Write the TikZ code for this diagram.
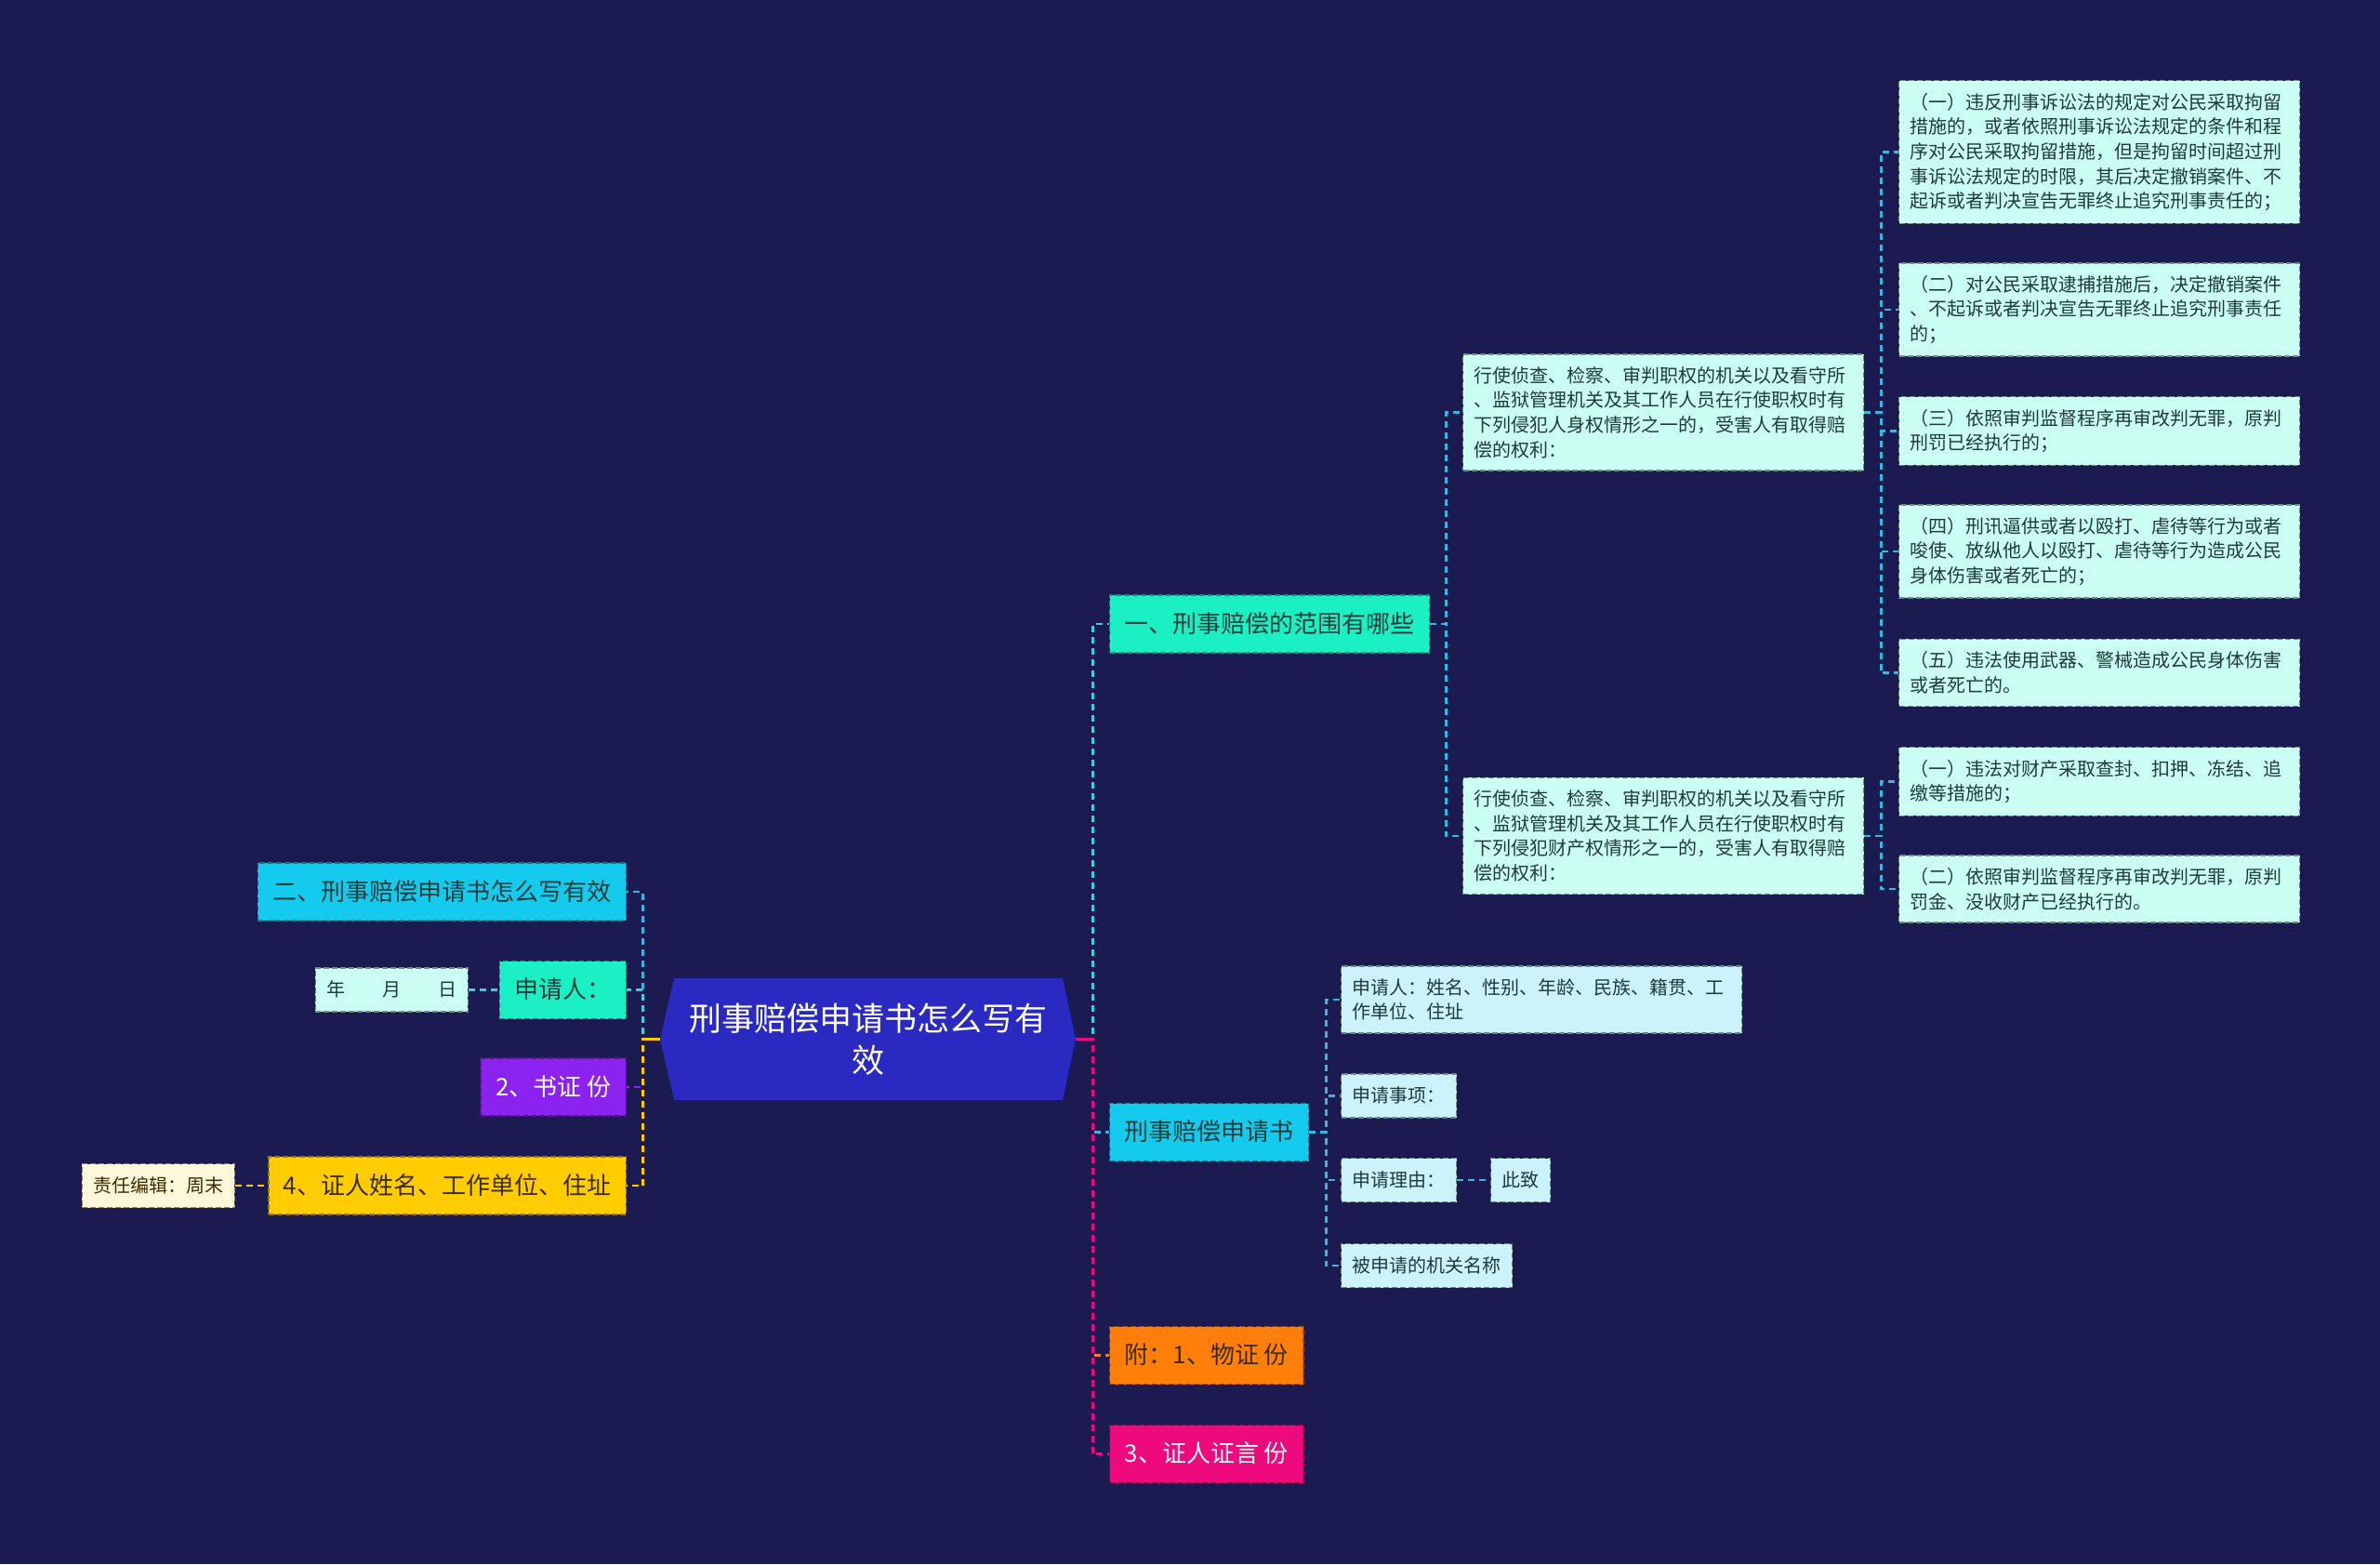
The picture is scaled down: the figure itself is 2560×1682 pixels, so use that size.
\documentclass[tikz,border=0pt]{standalone}
\usepackage{fontspec}
\setmainfont{Noto Sans CJK SC}
\definecolor{bgC}{HTML}{1C1B51}
\definecolor{rootC}{HTML}{2A2AC2}
\definecolor{mintC}{HTML}{1AF0C4}
\definecolor{cyanC}{HTML}{14CBEE}
\definecolor{purpleC}{HTML}{8B22F0}
\definecolor{yellowC}{HTML}{FFCC00}
\definecolor{orangeC}{HTML}{FF7F0A}
\definecolor{pinkC}{HTML}{EE0A7C}
\definecolor{leafMint}{HTML}{CCFFF3}
\definecolor{leafBlue}{HTML}{CCF2FC}
\definecolor{creamC}{HTML}{FFF7D9}
\definecolor{inkC}{HTML}{1D3B3A}
\definecolor{brownC}{HTML}{3B2C00}
\definecolor{tealE}{HTML}{3FCFD6}
\definecolor{cyanE}{HTML}{35B8E0}
\tikzset{
  rootbox/.style={minimum width=223.5pt, minimum height=65.5pt, inner sep=0pt, align=center, text=white,
    font=\fontsize{17.5}{22.5}\selectfont,
    path picture={\fill[rootC] (path picture bounding box.west) -- ([xshift=7.5pt]path picture bounding box.north west)
      -- ([xshift=-7pt]path picture bounding box.north east) -- (path picture bounding box.east)
      -- ([xshift=-7pt]path picture bounding box.south east) -- ([xshift=7.5pt]path picture bounding box.south west) -- cycle;}},
  topbox/.style={draw=#1!60!black, fill=#1, line width=0.7pt, dash pattern=on 3pt off 1.5pt,
    inner xsep=8pt, inner ysep=9pt, text height=11pt, text depth=2pt, text=inkC, font=\fontsize{13}{16}\selectfont},
  tagbox/.style={draw=#1!55!black, fill=#1, line width=0.7pt, dash pattern=on 3pt off 1.5pt,
    inner xsep=6pt, inner ysep=6.75pt, text height=8.5pt, text depth=1.5pt, text=inkC, font=\fontsize{10}{12}\selectfont},
  leaf/.style={draw=#1!55!black, fill=#1, line width=0.7pt, dash pattern=on 3pt off 1.5pt,
    text width=203.5pt, align=left, inner xsep=6pt, inner ysep=6.7pt, text=inkC, font=\fontsize{10}{13.3}\selectfont},
  link/.style={draw=#1, line width=1.4pt, dash pattern=on 3.5pt off 2.5pt}
}
\begin{document}
\begin{tikzpicture}[x=0.5pt, y=-0.5pt]
\fill [bgC] (0,0) rectangle (2560,1682);
\useasboundingbox (0,0) rectangle (2560,1682);
\node (root) [rootbox] at (933.5,1117.5) {刑事赔偿申请书怎么写有\\效};
\node (scope1) [topbox=mintC, anchor=west] at (1193,671) {一、刑事赔偿的范围有哪些};
\node (person) [leaf=leafMint, anchor=west] at (1573,443.5) {行使侦查、检察、审判职权的机关以及看守所\\、监狱管理机关及其工作人员在行使职权时有\\下列侵犯人身权情形之一的，受害人有取得赔\\偿的权利：};
\node (prop) [leaf=leafMint, anchor=west] at (1573,899) {行使侦查、检察、审判职权的机关以及看守所\\、监狱管理机关及其工作人员在行使职权时有\\下列侵犯财产权情形之一的，受害人有取得赔\\偿的权利：};
\node (p1) [leaf=leafMint, anchor=west] at (2042,163.5) {（一）违反刑事诉讼法的规定对公民采取拘留\\措施的，或者依照刑事诉讼法规定的条件和程\\序对公民采取拘留措施，但是拘留时间超过刑\\事诉讼法规定的时限，其后决定撤销案件、不\\起诉或者判决宣告无罪终止追究刑事责任的；};
\node (p2) [leaf=leafMint, anchor=west] at (2042,333) {（二）对公民采取逮捕措施后，决定撤销案件\\、不起诉或者判决宣告无罪终止追究刑事责任\\的；};
\node (p3) [leaf=leafMint, anchor=west] at (2042,463.5) {（三）依照审判监督程序再审改判无罪，原判\\刑罚已经执行的；};
\node (p4) [leaf=leafMint, anchor=west] at (2042,593) {（四）刑讯逼供或者以殴打、虐待等行为或者\\唆使、放纵他人以殴打、虐待等行为造成公民\\身体伤害或者死亡的；};
\node (p5) [leaf=leafMint, anchor=west] at (2042,723.5) {（五）违法使用武器、警械造成公民身体伤害\\或者死亡的。};
\node (q1) [leaf=leafMint, anchor=west] at (2042,840.5) {（一）违法对财产采取查封、扣押、冻结、追\\缴等措施的；};
\node (q2) [leaf=leafMint, anchor=west] at (2042,956) {（二）依照审判监督程序再审改判无罪，原判\\罚金、没收财产已经执行的。};
\node (app) [topbox=cyanC, anchor=west] at (1193,1217.5) {刑事赔偿申请书};
\node (appA) [leaf=leafBlue, anchor=west] at (1442,1075) {申请人：姓名、性别、年龄、民族、籍贯、工\\作单位、住址};
\node (appB) [tagbox=leafBlue, anchor=west] at (1442,1178.5) {申请事项：};
\node (appC) [tagbox=leafBlue, anchor=west] at (1442,1269) {申请理由：};
\node (appCa) [tagbox=leafBlue, anchor=west] at (1603,1269) {此致};
\node (appD) [tagbox=leafBlue, anchor=west] at (1442,1361) {被申请的机关名称};
\node (attach) [topbox=orangeC, text=brownC, anchor=west] at (1193,1457.5) {附：1、物证 份};
\node (witness) [topbox=pinkC, text=white, anchor=west] at (1193,1563.5) {3、证人证言 份};
\node (title2) [topbox=cyanC, anchor=east] at (674,959) {二、刑事赔偿申请书怎么写有效};
\node (signer) [topbox=mintC, anchor=east] at (674,1064.5) {申请人：};
\node (date) [tagbox=leafMint, anchor=east] at (504,1064.5) {年\quad\quad 月\quad\quad 日};
\node (docs) [topbox=purpleC, text=white, anchor=east] at (674,1169) {2、书证 份};
\node (wname) [topbox=yellowC, text=brownC, anchor=east] at (674,1275) {4、证人姓名、工作单位、住址};
\node (editor) [tagbox=creamC, text=brownC, anchor=east] at (253,1275) {责任编辑：周末};
\draw [link=tealE] (root.east) -- ++(18,0) |- (scope1.west);
\draw [link=cyanE] (root.east) -- ++(18,0) |- (app.west);
\draw [link=orangeC] (root.east) -- ++(18,0) |- (attach.west);
\draw [link=pinkC] (root.east) -- ++(18,0) |- (witness.west);
\draw [pinkC, line width=1.4pt] (root.east) -- ++(18,0);
\draw [link=cyanE] (root.west) -- ++(-18,0) |- (title2.east);
\draw [link=tealE] (root.west) -- ++(-18,0) |- (signer.east);
\draw [link=purpleC] (root.west) -- ++(-18,0) |- (docs.east);
\draw [link=yellowC] (root.west) -- ++(-18,0) |- (wname.east);
\draw [yellowC, line width=1.4pt] (root.west) -- ++(-18,0);
\draw [link=tealE] (date.east) -- (signer.west);
\draw [link=yellowC] (editor.east) -- (wname.west);
\foreach \n in {person,prop}
  \draw [link=cyanE] (scope1.east) -- ++(17,0) |- (\n.west);
\foreach \n in {p1,p2,p3,p4,p5}
  \draw [link=cyanE] (person.east) -- ++(18,0) |- (\n.west);
\foreach \n in {q1,q2}
  \draw [link=cyanE] (prop.east) -- ++(18,0) |- (\n.west);
\foreach \n in {appA,appB,appC,appD}
  \draw [link=cyanE] (app.east) -- ++(18,0) |- (\n.west);
\draw [link=cyanE] (appC.east) -- (appCa.west);
\end{tikzpicture}
\end{document}
